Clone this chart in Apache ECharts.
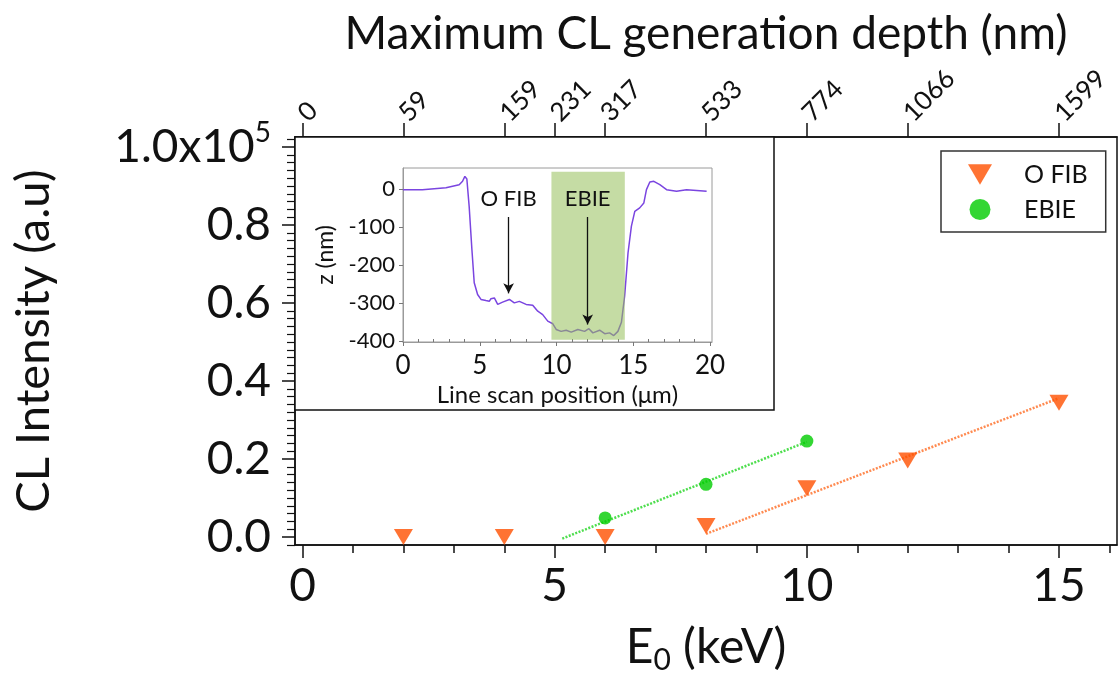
<!DOCTYPE html>
<html>
<head>
<meta charset="utf-8">
<script src="https://cdn.jsdelivr.net/npm/echarts@6/dist/echarts.min.js"></script>
<style>html,body{margin:0;padding:0;background:#fff}#c{width:1120px;height:680px}</style>
</head>
<body>
<div id="c"></div>
<script>
// ---- main chart data ----
const energyKeV = [2, 4, 6, 8, 10, 12, 15];
const oFibIntensity = [0.0, 0.0, 0.0, 0.028, 0.125, 0.196, 0.344];
const ebieKeV = [6, 8, 10];
const ebieIntensity = [0.049, 0.135, 0.246];
const oFibFitX = [8, 15];
const oFibFitY = [0.008, 0.356];
const ebieFitX = [5.15, 10];
const ebieFitY = [-0.004, 0.244];
const topTickKeV = [0, 2, 4, 5, 6, 8, 10, 12, 15];
const topTickLabels = ['0', '59', '159', '231', '317', '533', '774', '1066', '1599'];
const bottomMajor = [0, 5, 10, 15];
const bottomMinor = [1, 2, 3, 4, 6, 7, 8, 9, 11, 12, 13, 14, 16];
const yMajor = [0, 0.2, 0.4, 0.6, 0.8, 1.0];

// ---- inset data ----
const scanX = [0, 1.26, 2.8, 3.66, 3.88, 4.03, 4.16, 4.31, 4.49, 4.64, 4.86, 5.08, 5.4, 5.62, 5.73, 5.85, 5.95, 6.17, 6.49, 6.93, 7.25, 7.58, 8.02, 8.45, 8.78, 9.1, 9.43, 9.76, 9.98, 10.3, 10.63, 10.96, 11.39, 11.83, 12.11, 12.37, 12.81, 13.14, 13.46, 13.73, 14.0, 14.23, 14.44, 14.66, 14.88, 15.1, 15.42, 15.69, 15.86, 16.08, 16.34, 16.47, 16.73, 17.17, 17.82, 18.47, 19.13, 19.78];
const scanZ = [-2, -2, 3, 11, 20, 33, 26, -46, -160, -247, -278, -291, -294, -296, -289, -284, -287, -304, -298, -291, -300, -296, -304, -306, -322, -331, -348, -355, -370, -375, -372, -377, -370, -375, -368, -379, -372, -381, -379, -386, -375, -351, -282, -168, -98, -59, -50, -37, -2, 18, 20, 25, 11, -2, -6, -2, -4, -6];
const ebieRegion = [9.67, 14.45];
const insetXMajor = [0, 5, 10, 15, 20];
const insetYMajor = [0, -100, -200, -300, -400];

const FONT = 'Lato';
const zip = (a, b) => a.map((v, i) => [v, b[i]]);
const yMinor = [];
for (let i = -1; i <= 51; i++) { if (i % 10 !== 0) yMinor.push(Math.round(i * 2) / 100); }
const insetXMinor = [];
for (let i = 1; i < 20; i++) { if (i % 5 !== 0) insetXMinor.push(i); }

const X_MIN = -0.15, X_MAX = 16.15, Y_MIN = -0.0205, Y_MAX = 1.0256;
const black = '#111';

const chart = echarts.init(document.getElementById('c'), null, {renderer: 'canvas'});
chart.setOption({
  animation: false,
  backgroundColor: '#fff',
  textStyle: {fontFamily: FONT},
  grid: [
    {left: 295, top: 137, width: 822, height: 408, show: true, borderColor: black, borderWidth: 1.5, z: 0},
    {left: 403, top: 168, width: 309, height: 174, show: true, borderColor: '#9a9a9a', borderWidth: 1, z: 5}
  ],
  legend: {
    orient: 'vertical', left: 941, top: 151,
    data: ['O FIB', 'EBIE'],
    borderColor: '#333', borderWidth: 1.5,
    padding: [11, 18, 10, 27],
    itemWidth: 24, itemHeight: 21, itemGap: 10,
    textStyle: {fontFamily: FONT, fontSize: 25, color: '#111', padding: [0, 0, 0, 27]}
  },
  xAxis: [
    {gridIndex: 0, type: 'value', position: 'bottom', min: X_MIN, max: X_MAX, offset: 0,
      axisLine: {show: true, onZero: false, lineStyle: {color: black, width: 1.5}},
      axisTick: {show: true, inside: false, length: 13, customValues: bottomMajor, lineStyle: {color: black, width: 1.5}},
      axisLabel: {show: true, customValues: bottomMajor, fontSize: 46, color: '#111', margin: 18, fontFamily: FONT},
      splitLine: {show: false},
      name: '{a|E}{b|0}{a| (keV)}', nameLocation: 'middle', nameGap: 76,
      nameTextStyle: {rich: {a: {fontSize: 48, color: '#111', fontFamily: FONT}, b: {fontSize: 30, color: '#111', fontFamily: FONT, padding: [24, 0, 0, 0]}}}
    },
    {gridIndex: 0, type: 'value', position: 'bottom', min: X_MIN, max: X_MAX, offset: 0,
      axisLine: {show: false, onZero: false},
      axisTick: {show: true, inside: false, length: 8, customValues: bottomMinor, lineStyle: {color: black, width: 1.5}},
      axisLabel: {show: false}, splitLine: {show: false}
    },
    {gridIndex: 0, type: 'value', position: 'top', min: X_MIN, max: X_MAX, offset: 0,
      axisLine: {show: true, onZero: false, lineStyle: {color: black, width: 1.5}},
      axisTick: {show: true, inside: false, length: 14, customValues: topTickKeV, lineStyle: {color: black, width: 1.5}},
      axisLabel: {show: true, customValues: topTickKeV, rotate: -45, fontSize: 26, color: '#111', margin: 20, fontFamily: FONT,
        formatter: v => { const i = topTickKeV.indexOf(v); return i >= 0 ? topTickLabels[i] : ''; }},
      splitLine: {show: false},
      name: 'Maximum CL generation depth (nm)', nameLocation: 'middle', nameGap: 80,
      nameTextStyle: {fontSize: 46, color: '#111', fontFamily: FONT}
    },
    {gridIndex: 1, type: 'value', position: 'bottom', min: 0, max: 20.13, offset: 0, z: 6,
      axisLine: {show: true, onZero: false, lineStyle: {color: '#9a9a9a', width: 1}},
      axisTick: {show: true, inside: false, length: 4, customValues: insetXMajor, lineStyle: {color: '#777'}},
      axisLabel: {show: true, customValues: insetXMajor, fontSize: 26, color: '#111', margin: 11, fontFamily: FONT},
      splitLine: {show: false},
      name: 'Line scan position (\u03BCm)', nameLocation: 'middle', nameGap: 41,
      nameTextStyle: {fontSize: 24, color: '#111', fontFamily: FONT}
    },
    {gridIndex: 1, type: 'value', position: 'bottom', min: 0, max: 20.13, offset: 0, z: 6,
      axisLine: {show: false, onZero: false},
      axisTick: {show: true, inside: true, length: 3, customValues: insetXMinor, lineStyle: {color: '#777'}},
      axisLabel: {show: false}, splitLine: {show: false}
    }
  ],
  yAxis: [
    {gridIndex: 0, type: 'value', position: 'left', min: Y_MIN, max: Y_MAX, offset: 0,
      axisLine: {show: true, onZero: false, lineStyle: {color: black, width: 1.5}},
      axisTick: {show: true, inside: false, length: 13, customValues: yMajor, lineStyle: {color: black, width: 1.5}},
      axisLabel: {show: true, customValues: yMajor, fontSize: 46, color: '#111', margin: 24, fontFamily: FONT,
        formatter: v => Math.abs(v - 1) < 1e-9 ? '{a|1.0x10}{b|5}' : v.toFixed(1),
        rich: {a: {fontSize: 46, color: '#111', fontFamily: FONT}, b: {fontSize: 28, color: '#111', fontFamily: FONT, padding: [0, 0, 28, 0]}}},
      splitLine: {show: false},
      name: 'CL Intensity (a.u)', nameLocation: 'middle', nameGap: 238,
      nameTextStyle: {fontSize: 47, color: '#111', fontFamily: FONT}
    },
    {gridIndex: 0, type: 'value', position: 'left', min: Y_MIN, max: Y_MAX, offset: 0,
      axisLine: {show: false, onZero: false},
      axisTick: {show: true, inside: false, length: 8, customValues: yMinor, lineStyle: {color: black, width: 1.2}},
      axisLabel: {show: false}, splitLine: {show: false}
    },
    {gridIndex: 1, type: 'value', position: 'left', min: -403, max: 55, offset: 0, z: 6,
      axisLine: {show: true, onZero: false, lineStyle: {color: '#9a9a9a', width: 1}},
      axisTick: {show: true, inside: false, length: 4, customValues: insetYMajor, lineStyle: {color: '#777'}},
      axisLabel: {show: true, customValues: insetYMajor, fontSize: 22, color: '#111', margin: 8, fontFamily: FONT},
      splitLine: {show: false},
      name: 'z (nm)', nameLocation: 'middle', nameGap: 66,
      nameTextStyle: {fontSize: 23, color: '#111', fontFamily: FONT}
    }
  ],
  graphic: [
    {type: 'rect', z: 3, shape: {x: 295, y: 137, width: 479, height: 273},
      style: {fill: '#fff', stroke: black, lineWidth: 1.5}}
  ],
  series: [
    {name: 'O FIB fit', type: 'line', xAxisIndex: 0, yAxisIndex: 0, data: zip(oFibFitX, oFibFitY),
      showSymbol: false, symbol: 'none', silent: true,
      lineStyle: {color: '#ff8a50', width: 2.5, type: [2, 1.5]}, z: 2},
    {name: 'EBIE fit', type: 'line', xAxisIndex: 0, yAxisIndex: 0, data: zip(ebieFitX, ebieFitY),
      showSymbol: false, symbol: 'none', silent: true,
      lineStyle: {color: '#4ede4e', width: 2.5, type: [2, 1.5]}, z: 2},
    {name: 'O FIB', type: 'scatter', xAxisIndex: 0, yAxisIndex: 0, data: zip(energyKeV, oFibIntensity),
      symbol: 'path://M0,0L20,0L10,17Z', symbolSize: [19, 16], itemStyle: {color: '#ff5000'}, z: 4},
    {name: 'EBIE', type: 'scatter', xAxisIndex: 0, yAxisIndex: 0, data: zip(ebieKeV, ebieIntensity),
      symbol: 'circle', symbolSize: 13, itemStyle: {color: '#00cc00'}, z: 4},
    {name: 'profile', type: 'line', xAxisIndex: 3, yAxisIndex: 2, data: zip(scanX, scanZ),
      showSymbol: false, symbol: 'none', z: 7,
      lineStyle: {color: '#7a45e0', width: 1.5},
      markArea: {silent: true, z: 8, itemStyle: {color: 'rgba(150,192,90,0.55)'},
        data: [[{coord: [ebieRegion[0], -397]}, {coord: [ebieRegion[1], 45]}]]},
      markLine: {silent: true, z: 9, symbol: ['none', 'arrow'], symbolSize: [8, 10],
        lineStyle: {color: '#111', width: 1.3, type: 'solid'}, label: {show: false},
        data: [[{coord: [6.88, -74]}, {coord: [6.88, -275]}], [{coord: [12.03, -74]}, {coord: [12.03, -357]}]]},
      markPoint: {silent: true, z: 9, symbol: 'circle', symbolSize: 1, itemStyle: {color: 'rgba(0,0,0,0)'},
        label: {show: true, position: 'inside', formatter: p => p.name, fontSize: 22, color: '#111', fontFamily: FONT},
        data: [{name: 'O FIB', coord: [6.88, -26]}, {name: 'EBIE', coord: [12.03, -26]}]}
    }
  ]
});
</script>
</body>
</html>
